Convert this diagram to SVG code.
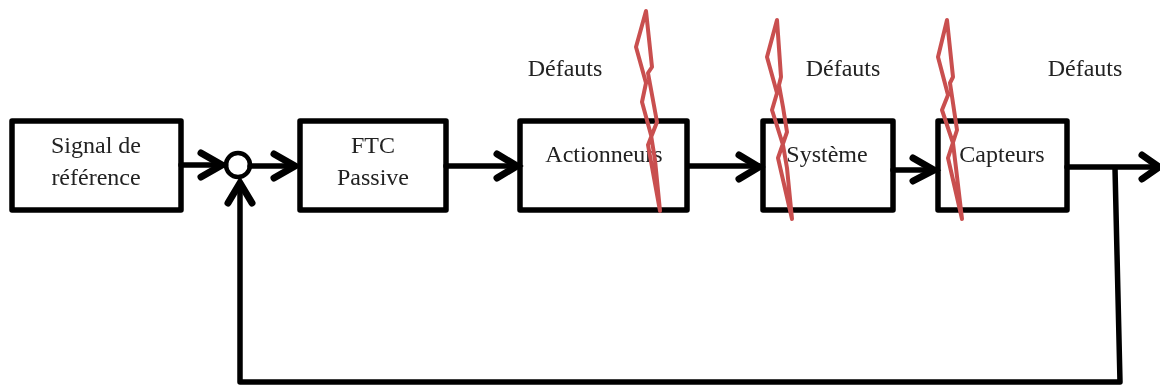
<svg xmlns="http://www.w3.org/2000/svg" width="1160" height="387" viewBox="0 0 1160 387">
<style>
.box{fill:#fff;stroke:#000;stroke-width:5.5;stroke-linejoin:round}
.con{fill:none;stroke:#000;stroke-width:5.5;stroke-linecap:round;stroke-linejoin:round}
.head{fill:none;stroke:#000;stroke-width:7;stroke-linecap:round;stroke-linejoin:miter}
.bolt{fill:none;stroke:#c9504f;stroke-width:4;stroke-linejoin:round}
text{font-family:"Liberation Serif","Times New Roman",serif;font-size:24px;fill:#222;text-anchor:middle}
</style>
<defs><filter id="soft" filterUnits="userSpaceOnUse" x="0" y="0" width="1160" height="387"><feGaussianBlur stdDeviation="0.5"/></filter></defs>
<rect width="1160" height="387" fill="#fff"/>
<g filter="url(#soft)">
<g id="n-signal"><rect class="box" x="12" y="121" width="169" height="89"/><text x="96" y="153">Signal de</text><text x="96" y="185">référence</text></g>
<g id="n-ftc"><rect class="box" x="300" y="121" width="146" height="89"/><text x="373" y="153">FTC</text><text x="373" y="185">Passive</text></g>
<g id="n-act"><rect class="box" x="520" y="121" width="167" height="89"/><text x="604" y="162">Actionneurs</text></g>
<g id="n-sys"><rect class="box" x="763" y="121" width="130" height="89"/><text x="827" y="162">Système</text></g>
<g id="n-cap"><rect class="box" x="938" y="121" width="129" height="89"/><text x="1002" y="162">Capteurs</text></g>
<g id="n-sum"><circle cx="238" cy="165" r="12" fill="#fff" stroke="#000" stroke-width="4.5"/></g>
<g id="connectors">
<path class="con" d="M181 165H222"/><path class="head" d="M201 153L222 165L201 177"/>
<path class="con" d="M250 166H294"/><path class="head" d="M274 154L295 166L274 178"/>
<path class="con" d="M446 166H517"/><path class="head" d="M497 154L517 166L497 178"/>
<path class="con" d="M689 166H759"/><path class="head" d="M739 155L759 167L739 179"/>
<path class="con" d="M893 170H934"/><path class="head" d="M913 158L934 170L913 181"/>
<path class="con" d="M1067 167H1158"/><path class="head" d="M1142 155L1159 167L1142 179"/>
<path class="con" d="M1115 168L1120 382H240V190"/><path class="head" d="M228 203L240 183L252 203"/>
</g>
<g id="n-bolt1"><path class="bolt" d="M646 11L636 47L646 83L642 102L651 135L655 160L660 211L648 145L657 122L648 73L652 67Z"/></g>
<g id="n-bolt2"><path class="bolt" d="M777 20L767 57L777 93L772 110L783 145L787 168L792 219L778 158L787 132L783 107L779 85L781 77Z"/></g>
<g id="n-bolt3"><path class="bolt" d="M947 20L938 57L948 95L942 110L953 143L956 168L962 219L948 158L957 130L950 83L953 77Z"/></g>
<text id="t-d1" x="565" y="76">Défauts</text>
<text id="t-d2" x="843" y="76">Défauts</text>
<text id="t-d3" x="1085" y="76">Défauts</text>
</g>
</svg>
